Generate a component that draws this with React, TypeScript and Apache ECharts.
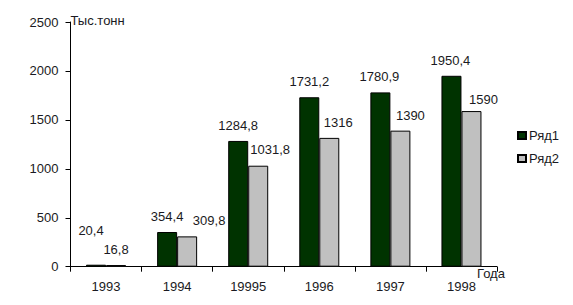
import React, { useEffect, useRef } from "react";
import * as echarts from "echarts";

const categories = ["1993", "1994", "19995", "1996", "1997", "1998"];
const series1 = [20.4, 354.4, 1284.8, 1731.2, 1780.9, 1950.4];
const series2 = [16.8, 309.8, 1031.8, 1316, 1390, 1590];
const seriesNames = ["Ряд1", "Ряд2"];
const yTicks = { min: 0, max: 2500, interval: 500 };
const yName = "Тыс.тонн";
const xName = "Года";

// label nudges (px) to mimic the original's label placement
const nudge1 = [[-5, -19], [0, 0], [0, 0], [0, 0], [-1, 0], [-1, 0]];
const nudge2 = [[0, 0], [22, 0], [12, -1], [9, 0], [10, 0], [12, 4]];

const FONT = 'Arial, "Liberation Sans", sans-serif';
const TXT = "#1a1a22";

const fmt = (v: number) => String(v).replace(".", ",");

export default function App() {
  const ref = useRef<HTMLDivElement>(null);
  useEffect(() => {
    if (!ref.current) return;
    const chart = echarts.init(ref.current, undefined, { renderer: "svg" });
    const mk = (vals: number[], nudges: number[][]) =>
      vals.map((v, i) => ({ value: v, label: { offset: nudges[i] } }));
    const labelCfg = {
      show: true,
      position: "top",
      distance: 9,
      fontSize: 13,
      color: TXT,
      fontFamily: FONT,
      formatter: (p: any) => fmt(p.value),
    };
    chart.setOption({
      animation: false,
      backgroundColor: "#ffffff",
      textStyle: { fontFamily: FONT, color: TXT },
      grid: { left: 70.5, right: 76, top: 22, bottom: 38.3, containLabel: false },
      legend: {
        orient: "vertical",
        left: 512,
        top: 124,
        itemWidth: 8,
        itemHeight: 7,
        itemGap: 10,
        icon: "rect",
        textStyle: { fontSize: 13, color: TXT, fontFamily: FONT, padding: [0, 0, 0, -2] },
        data: seriesNames,
      },
      xAxis: {
        type: "category",
        data: categories,
        name: xName,
        nameLocation: "end",
        nameGap: -20,
        nameTextStyle: { fontSize: 13, color: TXT, verticalAlign: "top", align: "left" },
        axisLine: { lineStyle: { color: "#000", width: 1 } },
        axisTick: { show: true, length: 5, lineStyle: { color: "#000" } },
        axisLabel: { fontSize: 13, color: TXT, margin: 13 },
        splitLine: { show: false },
      },
      yAxis: {
        type: "value",
        min: yTicks.min,
        max: yTicks.max,
        interval: yTicks.interval,
        name: yName,
        nameLocation: "end",
        nameGap: 2,
        nameTextStyle: { fontSize: 13, color: TXT, align: "left", verticalAlign: "middle" },
        axisLine: { show: true, lineStyle: { color: "#000", width: 1 } },
        axisTick: { show: true, length: 5, lineStyle: { color: "#000" } },
        axisLabel: { fontSize: 13, color: TXT, margin: 12, formatter: (v: number) => String(v) },
        splitLine: { show: false },
      },
      series: [
        {
          name: seriesNames[0],
          type: "bar",
          data: mk(series1, nudge1),
          barWidth: 20,
          barGap: "0%",
          itemStyle: { color: "#003300", borderColor: "#000", borderWidth: 1 },
          label: labelCfg,
        },
        {
          name: seriesNames[1],
          type: "bar",
          data: mk(series2, nudge2),
          barWidth: 20,
          barGap: "0%",
          itemStyle: { color: "#c0c0c0", borderColor: "#000", borderWidth: 1 },
          label: labelCfg,
        },
      ],
    });
    return () => chart.dispose();
  }, []);
  return (
    <div
      ref={ref}
      style={{ position: "fixed", left: 0, top: 0, width: 573, height: 305, background: "#fff" }}
    />
  );
}
